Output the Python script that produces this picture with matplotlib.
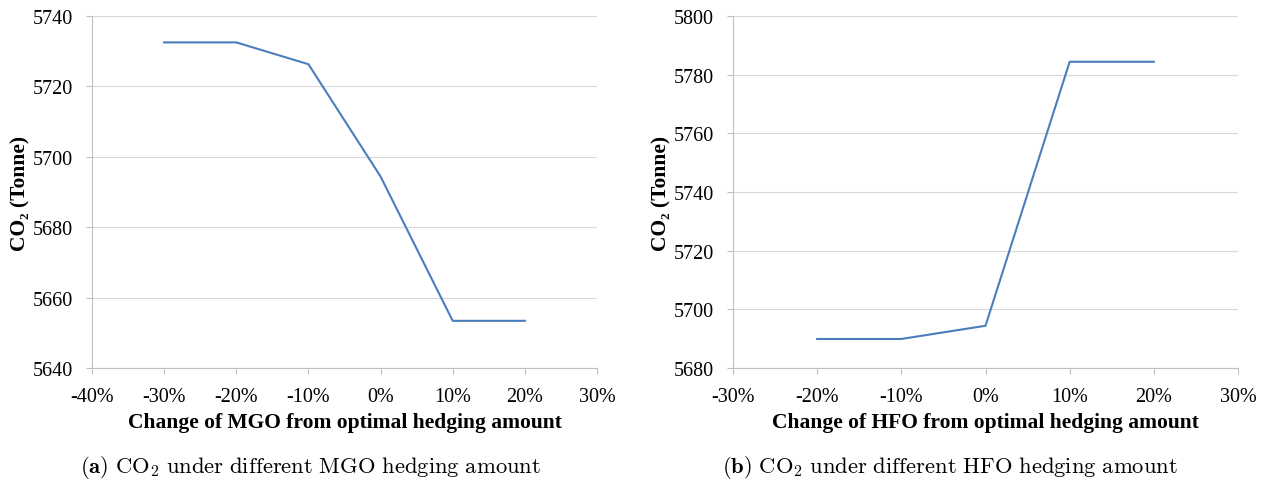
import matplotlib.pyplot as plt
from matplotlib.ticker import FuncFormatter

# CO2 output for changes of the hedged fuel amount (fraction of optimum)
mgo_change = [-0.3, -0.2, -0.1, 0.0, 0.1, 0.2]
mgo_co2 = [5732.5, 5732.5, 5726.3, 5694.4, 5653.4, 5653.4]

hfo_change = [-0.2, -0.1, 0.0, 0.1, 0.2]
hfo_co2 = [5689.9, 5689.9, 5694.4, 5784.4, 5784.4]

mgo_xticks = [-0.4, -0.3, -0.2, -0.1, 0.0, 0.1, 0.2, 0.3]
hfo_xticks = [-0.3, -0.2, -0.1, 0.0, 0.1, 0.2, 0.3]
mgo_yticks = [5640, 5660, 5680, 5700, 5720, 5740]
hfo_yticks = [5680, 5700, 5720, 5740, 5760, 5780, 5800]

plt.rcParams['mathtext.fontset'] = 'cm'
serif = ['Liberation Serif', 'DejaVu Serif']

W, H = 1271, 485
fig = plt.figure(figsize=(W / 100, H / 100), dpi=100)


def panel(rect, x, y, xticks, yticks, xlabel, caption, cap_x):
    ax = fig.add_axes(rect)
    ax.plot(x, y, color='#4a7ebb', lw=1.5)
    ax.set_xlim(xticks[0], xticks[-1])
    ax.set_ylim(yticks[0], yticks[-1])
    ax.set_xticks(xticks)
    ax.set_yticks(yticks)
    ax.xaxis.set_major_formatter(FuncFormatter(lambda v, p: '%d%%' % round(v * 100)))
    ax.grid(axis='y', color='#d9d9d9', lw=0.8)
    ax.set_axisbelow(True)
    for s in ['top', 'right']:
        ax.spines[s].set_visible(False)
    for s in ['left', 'bottom']:
        ax.spines[s].set_color('#bfbfbf')
        ax.spines[s].set_linewidth(0.8)
    ax.tick_params(axis='both', color='#bfbfbf', length=4, width=0.8,
                   labelsize=14.5, pad=10)
    for t in ax.get_xticklabels() + ax.get_yticklabels():
        t.set_family(serif)
    ax.set_xlabel(xlabel, family=serif, fontweight='bold', fontsize=15.5, labelpad=4)
    ax.set_ylabel('CO\u2082 (Tonne)', family=serif, fontweight='bold', fontsize=15.5,
                  labelpad=1)
    fig.text(cap_x, 1 - 468 / H, caption, ha='center', va='center', fontsize=16.3)
    return ax


panel([92 / W, 1 - 369 / H, 505 / W, 352 / H], mgo_change, mgo_co2,
      mgo_xticks, mgo_yticks, 'Change of MGO from optimal hedging amount',
      r'$\mathbf{(a)}\ \mathrm{CO_2\ under\ different\ MGO\ hedging\ amount}$', 311 / W)
panel([733 / W, 1 - 369 / H, 505 / W, 352 / H], hfo_change, hfo_co2,
      hfo_xticks, hfo_yticks, 'Change of HFO from optimal hedging amount',
      r'$\mathbf{(b)}\ \mathrm{CO_2\ under\ different\ HFO\ hedging\ amount}$', 950 / W)

fig.savefig('out.png', dpi=100)
